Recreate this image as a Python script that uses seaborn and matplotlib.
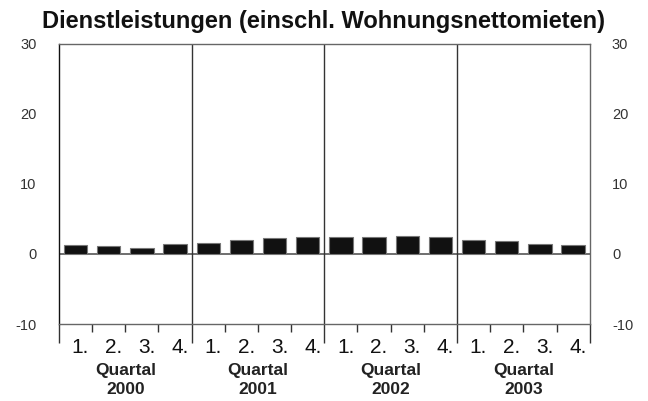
import numpy as np
import pandas as pd
import matplotlib
matplotlib.use("Agg")
import matplotlib.pyplot as plt
import matplotlib.transforms as mtransforms
import seaborn as sns

# Daten (Veränderung gegenüber Vorjahr, %)
jahre = ["2000", "2001", "2002", "2003"]
quartale = ["1.", "2.", "3.", "4."]
werte = [1.25, 1.15, 0.9, 1.35,
         1.55, 1.95, 2.2, 2.35,
         2.35, 2.35, 2.55, 2.45,
         1.95, 1.85, 1.4, 1.25]
y_ticks = [-10, 0, 10, 20, 30]

df = pd.DataFrame({
    "pos": np.arange(len(werte)),
    "wert": werte,
})

sns.set_style("white")
plt.rcParams["font.family"] = ["Liberation Sans", "DejaVu Sans"]

fig = plt.figure(figsize=(6.48, 4.01), dpi=100)
ax = fig.add_axes([0.091, 0.192, 0.819, 0.6995])

sns.barplot(data=df, x="pos", y="wert", color="#111111", width=0.7,
            edgecolor="#777777", linewidth=0.8, saturation=1, ax=ax,
            native_scale=True)

ax.set_xlim(-0.5, len(werte) - 0.5)
ax.set_ylim(-10, 30)
ax.axhline(0, color="#555555", lw=1.2, zorder=0)

# Trennlinien zwischen den Jahren
for b in [3.5, 7.5, 11.5]:
    ax.axvline(b, color="#333333", lw=1)

for s in ax.spines.values():
    s.set_color("#666666")
    s.set_linewidth(1)
ax.spines["left"].set_color("#111111")

# y-Achse beidseitig
ax.set_yticks(y_ticks)
ax.set_yticklabels([str(t) for t in y_ticks])
ax.tick_params(axis="y", length=0, labelsize=10.5, colors="#333333",
               left=True, right=True, labelleft=True, labelright=True, pad=16)

# x-Achse: Striche an Quartalsgrenzen, längere Striche an Jahresgrenzen
grenzen_jahr = [-0.5, 3.5, 7.5, 11.5, 15.5]
grenzen_q = [i + 0.5 for i in range(len(werte) - 1) if (i + 1) % 4 != 0]
ax.set_xticks(grenzen_jahr)
ax.set_xticks(grenzen_q, minor=True)
ax.set_xticklabels([])
ax.set_xticklabels([], minor=True)
ax.tick_params(axis="x", which="major", direction="out", length=14,
               width=1, color="#333333", bottom=True)
ax.tick_params(axis="x", which="minor", direction="out", length=6,
               width=1, color="#333333", bottom=True)
ax.set_xlabel("")
ax.set_ylabel("")

trans = mtransforms.blended_transform_factory(ax.transData, ax.transAxes)
for i in range(len(werte)):
    ax.text(i + 0.15, -0.082, quartale[i % 4], transform=trans,
            ha="center", va="center", fontsize=15, color="#111111")
for j, jahr in enumerate(jahre):
    ax.text(j * 4 + 1.5, -0.164, "Quartal", transform=trans,
            ha="center", va="center", fontsize=12.5, fontweight="bold",
            color="#222222")
    ax.text(j * 4 + 1.5, -0.232, jahr, transform=trans,
            ha="center", va="center", fontsize=12.5, fontweight="bold",
            color="#222222")

fig.text(0.5, 0.975, "Dienstleistungen (einschl. Wohnungsnettomieten)",
         ha="center", va="top", fontsize=17, fontweight="bold", color="#111111")

fig.savefig("out.png", dpi=100)
